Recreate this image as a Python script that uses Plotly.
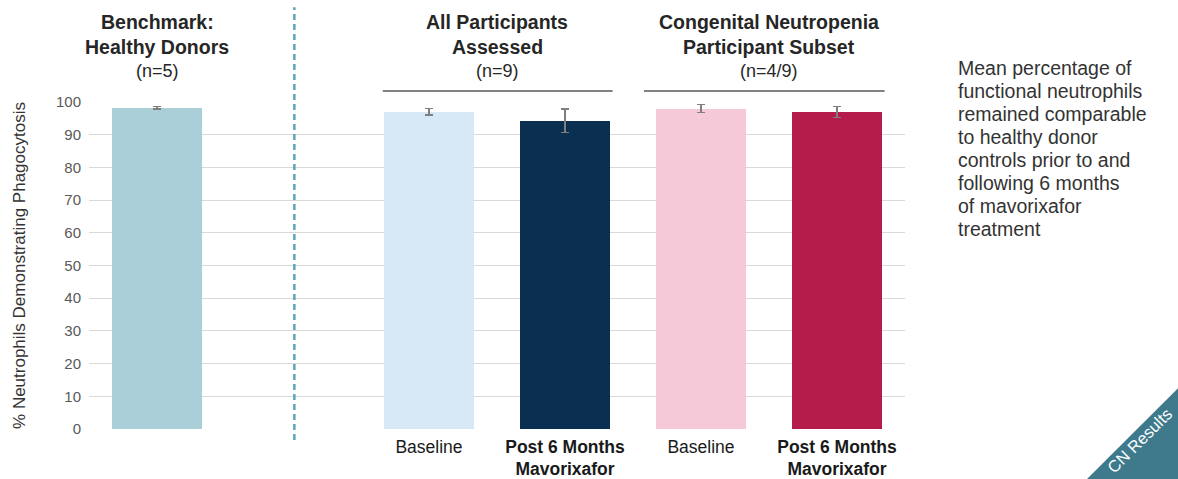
import plotly.graph_objects as go

# ---- data ----
categories = ["Healthy Donors", "Baseline (All)", "Post 6 Months (All)", "Baseline (CN)", "Post 6 Months (CN)"]
x_slots = [0, 2, 3, 4, 5]
values = [98.2, 97.0, 94.2, 98.0, 97.0]
errors = [0.4, 1.0, 3.6, 1.2, 1.7]
bar_colors = ["#AACFD8", "#D7E8F7", "#0B2F50", "#F5C9D8", "#B51C4C"]
tick_labels = ["Baseline", "<b>Post 6 Months<br>Mavorixafor</b>", "Baseline", "<b>Post 6 Months<br>Mavorixafor</b>"]
tick_slots = [2, 3, 4, 5]
y_ticks = [0, 10, 20, 30, 40, 50, 60, 70, 80, 90, 100]

FONT = "Liberation Sans"

fig = go.Figure()
fig.add_trace(go.Bar(
    x=x_slots, y=values, width=0.66,
    marker=dict(color=bar_colors, line=dict(width=0)),
    error_y=dict(type="data", array=errors, color="#7F7F7F", thickness=1.5, width=4),
    hoverinfo="x+y",
))

fig.update_layout(
    width=1178, height=479,
    margin=dict(l=89, r=273, t=102, b=50),
    paper_bgcolor="white", plot_bgcolor="white",
    showlegend=False,
    font=dict(family=FONT, color="#333333"),
    bargap=0,
)
fig.update_xaxes(
    range=[-0.5, 5.5], tickvals=tick_slots, ticktext=tick_labels,
    tickfont=dict(size=17.5, color="#1a1a1a", family=FONT),
    ticklabelstandoff=5,
    showgrid=False, zeroline=False, showline=False, ticks="",
    automargin=False,
)
fig.update_yaxes(
    range=[0, 100], tickvals=y_ticks,
    tickfont=dict(size=15, color="#595959", family=FONT),
    ticklabelstandoff=7,
    showgrid=True, gridcolor="#D9D9D9", gridwidth=1,
    zeroline=False, showline=False, ticks="",
    automargin=False,
    title=dict(text="% Neutrophils Demonstrating Phagocytosis", font=dict(size=17, color="#333333"), standoff=26),
)

# dashed separator
fig.add_shape(type="line", xref="x", yref="paper", x0=1.01, x1=1.01, y0=-0.034, y1=1.29,
              line=dict(color="#5DA5BC", width=2.5, dash="6px,4px"))

# header lines
for x0, x1 in [(1.66, 3.35), (3.58, 5.35)]:
    fig.add_shape(type="line", xref="x", yref="paper", x0=x0, x1=x1, y0=1.0336, y1=1.0336,
                  line=dict(color="#595959", width=1.5))

headers = [
    (0, ["<b>Benchmark:</b>", "<b>Healthy Donors</b>", "(n=5)"]),
    (2.5, ["<b>All Participants</b>", "<b>Assessed</b>", "(n=9)"]),
    (4.5, ["<b>Congenital Neutropenia</b>", "<b>Participant Subset</b>", "(n=4/9)"]),
]
line_y = [22, 47, 71]
for xc, lines in headers:
    for txt, py in zip(lines, line_y):
        fig.add_annotation(x=xc, xref="x", y=(429 - py) / 327, yref="paper",
                           text=txt, showarrow=False, xanchor="center", yanchor="middle",
                           font=dict(size=19.5 if "<b>" in txt else 18, color="#262626", family=FONT))

side_lines = ["Mean percentage of", "functional neutrophils", "remained comparable", "to healthy donor",
              "controls prior to and", "following 6 months", "of mavorixafor", "treatment"]
for i, t in enumerate(side_lines):
    py = 68 + i * 23
    fig.add_annotation(x=(956 - 89) / 816, xref="paper", y=(429 - py) / 327, yref="paper",
                       text=t, showarrow=False, xanchor="left", yanchor="middle",
                       font=dict(size=19.5, color="#333333", family=FONT))

# corner banner
fig.add_shape(type="path", xref="paper", yref="paper",
              path="M 1.1985,-0.214 L 1.40,0.287 L 1.40,-0.214 Z",
              fillcolor="#3E7A8C", line=dict(width=0), layer="above")
fig.add_annotation(x=(1139 - 89) / 816, xref="paper", y=(429 - 441) / 327, yref="paper",
                   text="CN Results", showarrow=False, textangle=-45,
                   xanchor="center", yanchor="middle",
                   font=dict(size=16.5, color="#FFFFFF", family=FONT))

fig.write_html("out.html", post_script="document.body.style.margin='0';",
               config={"displayModeBar": False})
